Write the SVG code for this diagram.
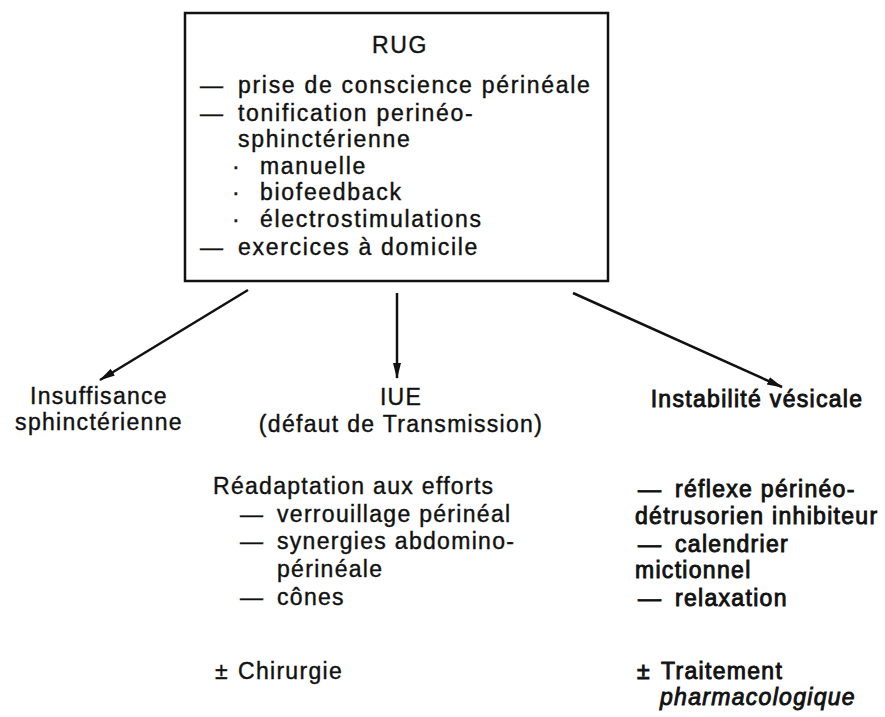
<svg xmlns="http://www.w3.org/2000/svg" width="885" height="717" viewBox="0 0 885 717">
<style>
text{font-family:"Liberation Sans",Arial,sans-serif;font-size:23px;fill:#111;stroke:#111;stroke-width:0.4px;letter-spacing:1.3px}
.bx{letter-spacing:1.7px}
.c{text-anchor:middle}
.bd{stroke-width:0.9px}
.it{font-style:italic}
.box{fill:#fff;stroke:#111;stroke-width:2.5}
.cn line{stroke:#111;stroke-width:2.5;marker-end:url(#ah)}
</style>
<defs>
<marker id="ah" viewBox="0 0 16 10" refX="15" refY="5" markerWidth="16" markerHeight="10" markerUnits="userSpaceOnUse" orient="auto">
<path d="M0,1 L16,5 L0,9 Z" fill="#111"/>
</marker>
</defs>
<rect width="885" height="717" fill="#fff"/>
<g id="rug">
<rect class="box" x="185" y="13" width="423" height="268"/>
<text class="bx c" x="400" y="53">RUG</text>
<text class="bx" x="200" y="93">—</text><text class="bx" x="238" y="93">prise de conscience périnéale</text>
<text class="bx" x="200" y="121">—</text><text class="bx" x="238" y="121">tonification perinéo-</text>
<text class="bx" x="238" y="147">sphinctérienne</text>
<text class="bx" x="232" y="174">·</text><text class="bx" x="260" y="174">manuelle</text>
<text class="bx" x="232" y="200">·</text><text class="bx" x="260" y="200">biofeedback</text>
<text class="bx" x="232" y="227">·</text><text class="bx" x="260" y="227">électrostimulations</text>
<text class="bx" x="200" y="255">—</text><text class="bx" x="238" y="255">exercices à domicile</text>
</g>
<g class="cn" id="connectors">
<line x1="248" y1="290" x2="100" y2="380"/>
<line x1="397" y1="293" x2="397" y2="378"/>
<line x1="573" y1="293" x2="782" y2="387"/>
</g>
<g id="insuffisance">
<text class="c" x="99" y="404">Insuffisance</text>
<text class="c" x="99" y="430">sphinctérienne</text>
</g>
<g id="iue">
<text class="c" x="401" y="405">IUE</text>
<text class="c" x="401" y="432">(défaut de Transmission)</text>
<text x="213" y="494">Réadaptation aux efforts</text>
<text x="240" y="522">—</text><text x="277" y="522">verrouillage périnéal</text>
<text x="240" y="549">—</text><text x="277" y="549">synergies abdomino-</text>
<text x="277" y="577">périnéale</text>
<text x="240" y="605">—</text><text x="277" y="605">cônes</text>
<text x="215" y="679">±</text><text x="238" y="679">Chirurgie</text>
</g>
<g id="instabilite">
<text class="c bd" x="757" y="407">Instabilité vésicale</text>
<text class="bd" x="638" y="497">—</text><text class="bd" x="675" y="497">réflexe périnéo-</text>
<text class="bd" x="635" y="524">détrusorien inhibiteur</text>
<text class="bd" x="638" y="552">—</text><text class="bd" x="675" y="552">calendrier</text>
<text class="bd" x="635" y="578">mictionnel</text>
<text class="bd" x="638" y="606">—</text><text class="bd" x="675" y="606">relaxation</text>
<text class="bd" x="637" y="679">±</text><text class="bd" x="661" y="679">Traitement</text>
<text class="bd it" x="660" y="705">pharmacologique</text>
</g>
</svg>
